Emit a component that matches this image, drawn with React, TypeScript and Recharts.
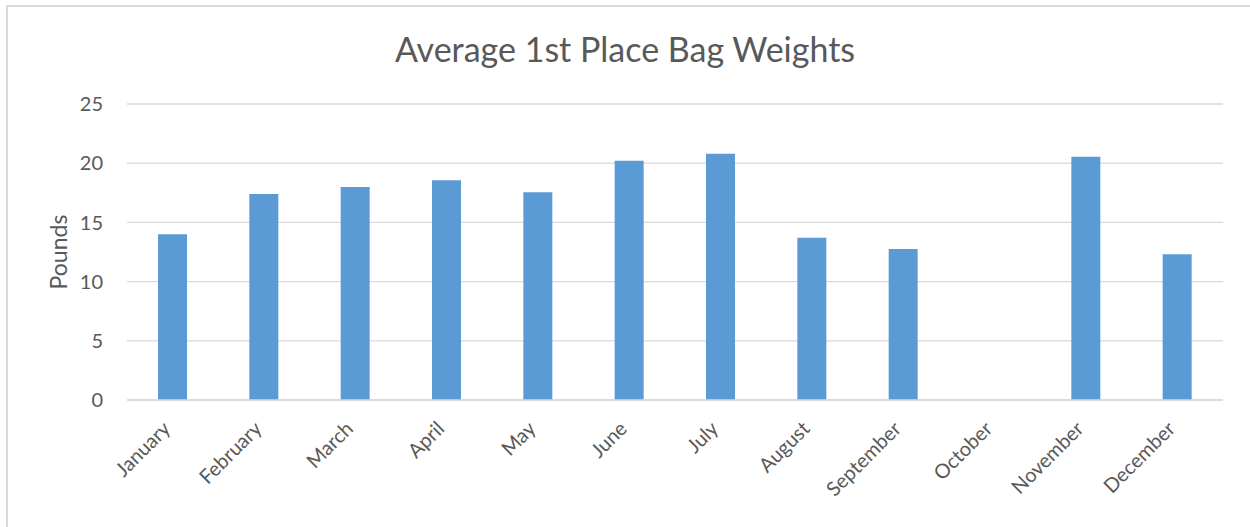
import React from "react";
import { BarChart, Bar, XAxis, YAxis, CartesianGrid, Label } from "recharts";

const months = [
  "January", "February", "March", "April", "May", "June",
  "July", "August", "September", "October", "November", "December",
];
const weights = [14.0, 17.4, 18.0, 18.55, 17.55, 20.2, 20.8, 13.7, 12.75, 0, 20.55, 12.3];
const yTicks = [0, 5, 10, 15, 20, 25];

const FONT = "Lato, 'Open Sans', sans-serif";
const TEXT = "#595959";
const GRID = "#d9d9d9";

const data = months.map((m, i) => ({ month: m, pounds: weights[i] }));

function MonthTick(props: any) {
  const { x, y, payload } = props;
  const tx = x - 1;
  const ty = y + 22;
  return (
    <text
      x={tx}
      y={ty}
      transform={`rotate(-45, ${tx}, ${ty})`}
      textAnchor="end"
      fill={TEXT}
      fontSize={20}
      fontFamily={FONT}
    >
      {payload.value}
    </text>
  );
}

export default function App() {
  return (
    <div
      style={{
        position: "absolute", left: 0, top: 0, width: 1250, height: 527,
        background: "#fff", overflow: "hidden",
      }}
    >
      <div
        style={{
          position: "absolute", left: 6, top: 5, width: 1300, height: 600,
          boxSizing: "border-box", border: `2px solid ${GRID}`,
        }}
      />
      <div
        style={{
          position: "absolute", left: 0, right: 0, top: 28, textAlign: "center",
          fontFamily: FONT, fontSize: 34, color: TEXT,
        }}
      >
        Average 1st Place Bag Weights
      </div>
      <div style={{ position: "absolute", left: 0, top: 0 }}>
        <BarChart
          width={1250}
          height={527}
          data={data}
          margin={{ top: 104, right: 27, bottom: 27, left: 67 }}
        >
          <CartesianGrid horizontal vertical={false} stroke={GRID} strokeWidth={1.3} />
          <XAxis
            dataKey="month"
            height={100}
            interval={0}
            tick={<MonthTick />}
            tickLine={false}
            axisLine={{ stroke: GRID, strokeWidth: 1.3 }}
          />
          <YAxis
            width={60}
            domain={[0, 25]}
            ticks={yTicks}
            tickLine={false}
            axisLine={false}
            tickSize={0}
            tickMargin={24}
            tick={{ fill: TEXT, fontSize: 20, fontFamily: FONT }}
          >
            <Label
              content={(p: any) => {
                const vb = p.viewBox;
                const cx = 58;
                const cy = vb.y + vb.height / 2;
                return (
                  <text
                    x={cx}
                    y={cy}
                    transform={`rotate(-90, ${cx}, ${cy})`}
                    textAnchor="middle"
                    dominantBaseline="central"
                    fill={TEXT}
                    fontSize={23}
                    fontFamily={FONT}
                  >
                    Pounds
                  </text>
                );
              }}
            />
          </YAxis>
          <Bar dataKey="pounds" fill="#5b9bd5" barSize={29} isAnimationActive={false} />
        </BarChart>
      </div>
    </div>
  );
}
